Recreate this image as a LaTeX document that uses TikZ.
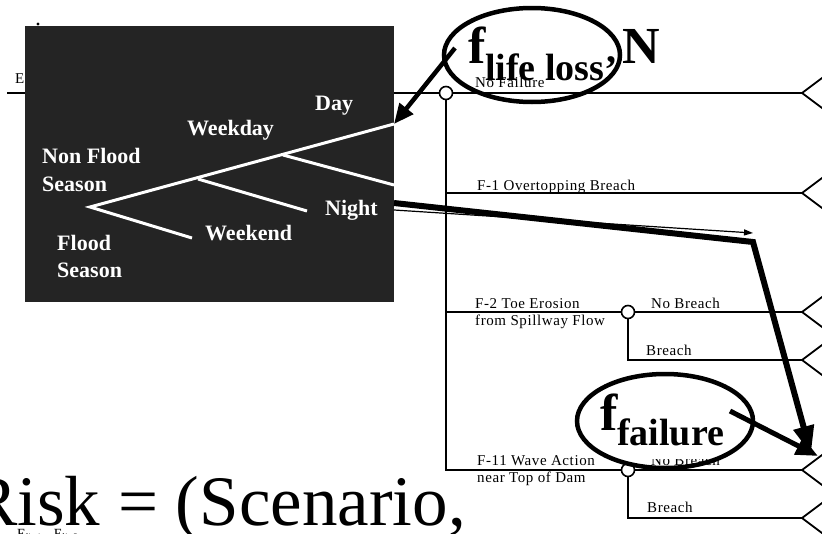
\documentclass[tikz,border=0pt]{standalone}
\usepackage{fontspec}
\setmainfont{Liberation Serif}
\newfontfamily\branchfont{Liberation Serif}[LetterSpace=4]
\usepackage{xcolor}
\usetikzlibrary{arrows.meta,calc}
\definecolor{panelgray}{HTML}{242424}

\begin{document}
\begin{tikzpicture}[x=1pt,y=-1pt,
    branch/.style={line width=1.8pt},
    chance/.style={circle,draw,fill=white,line width=1.6pt,minimum size=13pt,inner sep=0pt},
    lbl/.style={anchor=base west,inner sep=0pt,font=\branchfont\fontsize{15}{16}\selectfont},
    twig/.style={white,line width=3pt},
    wlbl/.style={anchor=base west,inner sep=0pt,text=white,font=\bfseries\fontsize{22}{24}\selectfont},
    bigf/.style={anchor=base west,inner sep=0pt,font=\bfseries\fontsize{52}{52}\selectfont},
    subf/.style={anchor=base west,inner sep=0pt,font=\bfseries\fontsize{38}{38}\selectfont},
    ring/.style={line width=4.5pt}]
    \useasboundingbox (0,0) rectangle (822,533);
    \clip (0,0) rectangle (822,533);

    % Event tree
    \coordinate (start) at (7,93);
    \node[chance] (c0) at (446,93) {};
    \coordinate (f1) at (446,193);
    \coordinate (f2) at (446,312);
    \coordinate (f11) at (446,470);
    \node[chance] (c2) at (628,312) {};
    \node[chance] (c11) at (628,470) {};
    \coordinate (b2) at (628,360);
    \coordinate (b11) at (628,518);
    \coordinate (e1) at (802,93);
    \coordinate (e2) at (802,193);
    \coordinate (e3) at (802,312);
    \coordinate (e4) at (802,360);
    \coordinate (e5) at (802,470);
    \coordinate (e6) at (802,518);

    \draw[branch] (start) -- (c0);
    \draw[branch] (c0) -- (e1);
    \draw[branch] (c0) -- (f11) -- (c11);
    \draw[branch] (f1) -- (e2);
    \draw[branch] (f2) -- (c2);
    \draw[branch] (c2) -- (e3);
    \draw[branch] (c2) -- (b2) -- (e4);
    \draw[branch] (c11) -- (e5);
    \draw[branch] (c11) -- (b11) -- (e6);
    \foreach \e in {e1,e2,e3,e4,e5,e6} {
        \draw[branch] (\e) -- ++(24,-18);
        \draw[branch] (\e) -- ++(24,18);
    }

    \node[lbl] (nofail) at (475,87) {No Failure};
    \node[lbl] (overtop) at (477,190) {F-1 Overtopping Breach};
    \node[lbl] (toe) at (475,308) {F-2 Toe Erosion};
    \node[lbl] (spill) at (475,325) {from Spillway Flow};
    \node[lbl] (nobtoe) at (651,308) {No Breach};
    \node[lbl] (brtoe) at (646,355) {Breach};
    \node[lbl] (wave) at (477,465) {F-11 Wave Action};
    \node[lbl] (neartop) at (477,482) {near Top of Dam};
    \node[lbl] (nobwave) at (651,465) {No Breach};
    \node[lbl] (brwave) at (647,512) {Breach};

    % Left edge bits behind the panel
    \node[anchor=base west,inner sep=0pt,font=\fontsize{15}{17}\selectfont] (eleft) at (15,83) {E};
    \fill (38,24) circle (1.6pt);

    % Time-of-exposure panel
    \fill[panelgray] (25,26) rectangle (394,302);
    \coordinate (root) at (90,207);
    \coordinate (wk) at (198,179);
    \coordinate (dn) at (283,155);
    \coordinate (day) at (394,124);
    \coordinate (night) at (394,185);
    \coordinate (wkend) at (307,211);
    \coordinate (flood) at (192,238);
    \draw[twig] (flood) -- (root) -- (day);
    \draw[twig] (wk) -- (wkend);
    \draw[twig] (dn) -- (night);

    \node[wlbl] (tday) at (315,110) {Day};
    \node[wlbl] (tweekday) at (187,135) {Weekday};
    \node[wlbl] (tnonflood) at (42,163) {Non Flood};
    \node[wlbl] (tseason1) at (42,191) {Season};
    \node[wlbl] (tnight) at (325,215) {Night};
    \node[wlbl] (tweekend) at (205,240) {Weekend};
    \node[wlbl] (tflood) at (57,250) {Flood};
    \node[wlbl] (tseason2) at (57,277) {Season};

    % f life loss, N
    \draw[ring] (532,55) ellipse [x radius=88pt, y radius=47pt];
    \node[bigf] (flife) at (468,63) {f};
    \node[subf] (lifesub) at (485,80) {life loss};
    \node[anchor=base west,inner sep=0pt,font=\bfseries\fontsize{40}{40}\selectfont] (comma) at (606,62) {,};
    \node[bigf] (nn) at (622,63) {N};

    % f failure
    \node[subf,fill=white,text depth=14pt] (failsub) at (617,445) {failure};
    \node[bigf] (ffail) at (600,430) {f};
    \draw[ring] (665,421) ellipse [x radius=88pt, y radius=47pt];

    % Pointers
    \coordinate (lifetail) at (455,48);
    \draw[line width=4.5pt,-{Triangle[length=20pt,width=17pt]}] (lifetail) -- (day);

    \coordinate (nightout) at (394,203);
    \coordinate (bend) at (753,242);
    \coordinate (target) at (811,454);
    \draw[line width=6pt,-{Triangle[length=28pt,width=20pt]}] (nightout) -- (bend) -- (target);
    \coordinate (thinstart) at (394,210);
    \coordinate (thintip) at (753,233);
    \draw[line width=1.2pt,-{Triangle[length=9pt,width=6pt]}] (thinstart) -- (thintip);

    \coordinate (failtail) at (730,411);
    \coordinate (failtip) at (818,456);
    \draw[line width=5pt,-{Triangle[length=22pt,width=18pt]}] (failtail) -- (failtip);

    % Risk line
    \node[anchor=base west,inner sep=0pt,font=\fontsize{71}{71}\selectfont] (risk) at (-30,525) {Risk = (Scenario,};
    \node[anchor=base west,inner sep=0pt,font=\fontsize{14}{14}\selectfont] (elev) at (17,538) {E\textsubscript{li+1} - E\textsubscript{li+2}};
\end{tikzpicture}
\end{document}
